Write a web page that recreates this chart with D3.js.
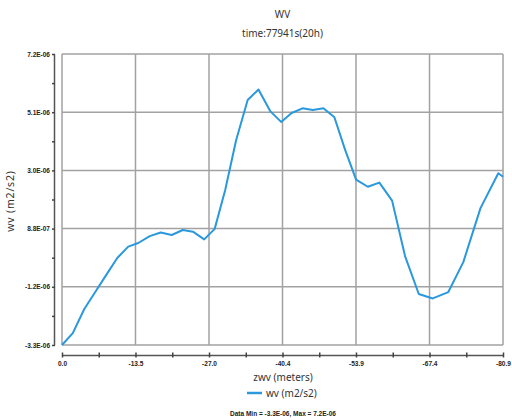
<!DOCTYPE html>
<html><head><meta charset="utf-8">
<script src="https://cdn.jsdelivr.net/npm/d3@7"></script>
<style>body{margin:0;background:#fff}svg{display:block}</style>
</head><body>
<script>
const title = "WV";
const subtitle = "time:77941s(20h)";
const xLabel = "zwv (meters)";
const yLabel = "wv (m2/s2)";
const seriesName = "wv (m2/s2)";
const footer = "Data Min = -3.3E-06, Max = 7.2E-06";
const xTickValues = [0, -13.48, -26.97, -40.45, -53.93, -67.42, -80.9];
const xTickLabels = ["0.0", "-13.5", "-27.0", "-40.4", "-53.9", "-67.4", "-80.9"];
const yTickValues = [-3.3e-6, -1.2e-6, 0.9e-6, 3.0e-6, 5.1e-6, 7.2e-6];
const yTickLabels = ["-3.3E-06", "-1.2E-06", "8.8E-07", "3.0E-06", "5.1E-06", "7.2E-06"];
const depth = [0, -1.98, -4.09, -6.10, -8.12, -10.14, -12.15, -13.99, -16.10, -18.11, -20.13, -22.15, -24.02, -26.09, -28.01, -29.94, -31.95, -34.06, -36.04, -38.19, -40.20, -42.13, -44.11, -46.01, -47.96, -49.97, -51.94, -53.95, -56.10, -58.22, -60.55, -62.93, -65.45, -68.01, -70.87, -73.62, -76.77, -80.04, -80.9];
const wv = [-3.30, -2.87, -2.00, -1.39, -0.77, -0.16, 0.25, 0.38, 0.63, 0.76, 0.67, 0.85, 0.79, 0.51, 0.89, 2.29, 4.10, 5.54, 5.92, 5.14, 4.75, 5.07, 5.24, 5.18, 5.24, 4.92, 3.74, 2.67, 2.41, 2.56, 1.91, -0.09, -1.46, -1.62, -1.39, -0.31, 1.64, 2.90, 2.77].map(v => v * 1e-6);

const W = 512, H = 420;
const svg = d3.select("body").append("svg").attr("width", W).attr("height", H);
const L = 62, R = 503, T = 54, B = 345;
const x = d3.scaleLinear().domain([0, -80.9]).range([L, R]);
const y = d3.scaleLinear().domain([-3.3e-6, 7.2e-6]).range([B, T]);
const gridColor = "#a2a2a2";
const font = "'Noto Sans', sans-serif";
const tickFont = "'Liberation Sans', Arial, sans-serif";

// grid
svg.append("g").selectAll("line").data(yTickValues).join("line")
  .attr("x1", L).attr("x2", R).attr("y1", d => y(d)).attr("y2", d => y(d))
  .attr("stroke", gridColor).attr("stroke-width", 1.5);
svg.append("g").selectAll("line").data(xTickValues).join("line")
  .attr("y1", T).attr("y2", B).attr("x1", d => x(d)).attr("x2", d => x(d))
  .attr("stroke", gridColor).attr("stroke-width", 1.5);

// y axis (separate)
const yMinor = d3.range(yTickValues.length - 1).map(i => (yTickValues[i] + yTickValues[i + 1]) / 2);
const yAxis = d3.axisLeft(y).tickValues(yTickValues.concat(yMinor))
  .tickFormat(d => { const i = yTickValues.indexOf(d); return i >= 0 ? yTickLabels[i] : ""; })
  .tickSizeInner(2).tickSizeOuter(0).tickPadding(2);
const gy = svg.append("g").attr("transform", "translate(54,0)").call(yAxis);
gy.select(".domain").attr("stroke", "#555").attr("stroke-width", 1.5);
gy.selectAll(".tick line").attr("stroke", "#444").attr("stroke-width", 1.5).attr("x2", 1).attr("x1", -2);
gy.selectAll(".tick text").attr("font-family", tickFont).attr("font-weight", "bold").attr("font-size", 6.5).attr("fill", "#222");

// x axis (separate)
const xMinor = d3.range(xTickValues.length - 1).map(i => (xTickValues[i] + xTickValues[i + 1]) / 2);
const xAxis = d3.axisBottom(x).tickValues(xTickValues.concat(xMinor))
  .tickFormat(d => { const i = xTickValues.indexOf(d); return i >= 0 ? xTickLabels[i] : ""; })
  .tickSizeInner(2).tickSizeOuter(0).tickPadding(4);
const gx = svg.append("g").attr("transform", "translate(0,355)").call(xAxis);
gx.select(".domain").attr("stroke", "#555").attr("stroke-width", 1.5);
gx.selectAll(".tick line").attr("stroke", "#444").attr("stroke-width", 1.5).attr("y1", -2.5).attr("y2", 2.5);
gx.selectAll(".tick text").attr("font-family", tickFont).attr("font-weight", "bold").attr("font-size", 6.5).attr("fill", "#222");

// line
const pts = depth.map((d, i) => [d, wv[i]]);
svg.append("path").datum(pts)
  .attr("fill", "none").attr("stroke", "#2a98dc").attr("stroke-width", 2)
  .attr("stroke-linejoin", "round")
  .attr("d", d3.line().x(d => x(d[0])).y(d => y(d[1])));

// titles
svg.append("text").attr("x", 282.5).attr("y", 18).attr("text-anchor", "middle")
  .attr("font-family", font).attr("font-size", 10).attr("fill", "#333").text(title);
svg.append("text").attr("x", 282.5).attr("y", 37).attr("text-anchor", "middle")
  .attr("font-family", font).attr("font-size", 10).attr("fill", "#333").text(subtitle);
svg.append("text").attr("x", 283).attr("y", 381).attr("text-anchor", "middle")
  .attr("font-family", font).attr("font-size", 10).attr("fill", "#333").text(xLabel);
svg.append("text").attr("transform", "translate(14,201) rotate(-90)").attr("text-anchor", "middle")
  .attr("font-family", font).attr("font-size", 10.5).attr("letter-spacing", 0.8).attr("fill", "#333").text(yLabel);

// legend
svg.append("line").attr("x1", 247).attr("x2", 262).attr("y1", 393).attr("y2", 393)
  .attr("stroke", "#2a98dc").attr("stroke-width", 2.5);
svg.append("text").attr("x", 266).attr("y", 397).attr("font-family", font).attr("font-size", 10)
  .attr("fill", "#333").text(seriesName);

// footer
svg.append("text").attr("x", 283).attr("y", 416).attr("text-anchor", "middle")
  .attr("font-family", tickFont).attr("font-weight", "bold").attr("font-size", 6.5)
  .attr("fill", "#222").text(footer);
</script>
</body></html>
